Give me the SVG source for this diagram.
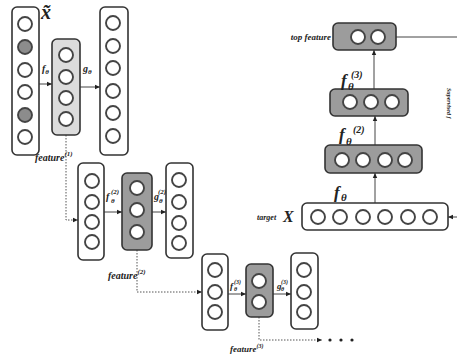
<svg xmlns="http://www.w3.org/2000/svg" width="457" height="357" viewBox="0 0 457 357">
<style>
.col{fill:#fff;stroke:#333;stroke-width:1.6}
.lt{fill:#dcdcdc;stroke:#333;stroke-width:1.6}
.dk{fill:#9c9c9c;stroke:#333;stroke-width:1.6}
.c{fill:#fff;stroke:#444;stroke-width:1.9}
.g{fill:#8c8c8c;stroke:#444;stroke-width:1.9}
.ln{stroke:#444;stroke-width:1;fill:none}
.dot{stroke:#555;stroke-width:1;fill:none;stroke-dasharray:1.5 1.5}
.lb{font-family:"Liberation Serif",serif;font-style:italic;font-weight:bold;fill:#222}
</style>
<defs>
<marker id="ah" markerWidth="6" markerHeight="6" refX="5" refY="3" orient="auto" markerUnits="userSpaceOnUse">
<path d="M0,0.8 L5,3 L0,5.2 Z" fill="#222"/>
</marker>
</defs>
<rect width="457" height="357" fill="#fff"/>

<g id="connectors">
<line class="ln" x1="39" y1="84" x2="52" y2="84" marker-end="url(#ah)"/>
<line class="ln" x1="80" y1="87" x2="100" y2="87" marker-end="url(#ah)"/>
<polyline class="dot" points="66,135 66,220 78,220" marker-end="url(#ah)"/>
<line class="ln" x1="104" y1="212" x2="122" y2="212" marker-end="url(#ah)"/>
<line class="ln" x1="152" y1="212" x2="166" y2="212" marker-end="url(#ah)"/>
<polyline class="dot" points="137,250 137,292 202,292" marker-end="url(#ah)"/>
<line class="ln" x1="228" y1="294" x2="246" y2="294" marker-end="url(#ah)"/>
<line class="ln" x1="273" y1="294" x2="291" y2="294" marker-end="url(#ah)"/>
<polyline class="dot" points="259,317 259,340 322,340" marker-end="url(#ah)"/>
<line class="ln" x1="375" y1="203" x2="375" y2="173" marker-end="url(#ah)"/>
<line class="ln" x1="375" y1="145" x2="375" y2="116" marker-end="url(#ah)"/>
<line class="ln" x1="374" y1="89" x2="374" y2="50" marker-end="url(#ah)"/>
<line class="ln" x1="396" y1="37" x2="457" y2="37"/>
<line class="ln" x1="457" y1="217" x2="448" y2="217" marker-end="url(#ah)"/>
</g>

<g id="input">
<rect class="col" x="12" y="7" width="27" height="148" rx="5"/>
<circle class="c" cx="25" cy="24" r="7"/>
<circle class="g" cx="25" cy="47" r="7"/>
<circle class="c" cx="25" cy="70" r="7"/>
<circle class="c" cx="25" cy="92" r="7"/>
<circle class="g" cx="25" cy="115" r="7"/>
<circle class="c" cx="25" cy="137" r="7"/>
<text class="lb" x="41" y="19" font-size="20">x̃</text>
</g>

<g id="hidden1">
<rect class="lt" x="52" y="39" width="28" height="96" rx="5"/>
<circle class="c" cx="66" cy="55" r="7"/>
<circle class="c" cx="66" cy="77" r="7"/>
<circle class="c" cx="66" cy="98" r="7"/>
<circle class="c" cx="66" cy="119" r="7"/>
</g>

<g id="recon1">
<rect class="col" x="100" y="7" width="28" height="148" rx="5"/>
<circle class="c" cx="113" cy="23" r="7"/>
<circle class="c" cx="113" cy="46" r="7"/>
<circle class="c" cx="113" cy="68" r="7"/>
<circle class="c" cx="113" cy="91" r="7"/>
<circle class="c" cx="113" cy="113" r="7"/>
<circle class="c" cx="113" cy="136" r="7"/>
</g>

<g id="labels1">
<text class="lb" x="42" y="72" font-size="10">f<tspan font-size="7" dy="2">θ</tspan></text>
<text class="lb" x="83" y="72" font-size="10">g<tspan font-size="7" dy="2">θ</tspan></text>
<text class="lb" x="35" y="161" font-size="10">feature<tspan font-size="7" dy="-5">(1)</tspan></text>
</g>

<g id="input2">
<rect class="col" x="78" y="163" width="26" height="97" rx="5"/>
<circle class="c" cx="92" cy="181" r="7"/>
<circle class="c" cx="92" cy="202" r="7"/>
<circle class="c" cx="92" cy="222" r="7"/>
<circle class="c" cx="92" cy="242" r="7"/>
</g>

<g id="hidden2">
<rect class="dk" x="122" y="173" width="30" height="77" rx="5"/>
<circle class="c" cx="137" cy="188" r="7"/>
<circle class="c" cx="137" cy="210" r="7"/>
<circle class="c" cx="137" cy="232" r="7"/>
</g>

<g id="recon2">
<rect class="col" x="166" y="163" width="27" height="95" rx="5"/>
<circle class="c" cx="179" cy="180" r="7"/>
<circle class="c" cx="179" cy="202" r="7"/>
<circle class="c" cx="179" cy="223" r="7"/>
<circle class="c" cx="179" cy="243" r="7"/>
</g>

<g id="labels2">
<text class="lb" x="106" y="200" font-size="10">f</text>
<text class="lb" x="111" y="203" font-size="7">θ</text>
<text class="lb" x="111" y="194" font-size="7">(2)</text>
<text class="lb" x="154" y="200" font-size="10">g</text>
<text class="lb" x="159" y="203" font-size="7">θ</text>
<text class="lb" x="158" y="194" font-size="7">(2)</text>
<text class="lb" x="108" y="279" font-size="10">feature<tspan font-size="7" dy="-5">(2)</tspan></text>
</g>

<g id="input3">
<rect class="col" x="202" y="254" width="26" height="76" rx="5"/>
<circle class="c" cx="215" cy="270" r="7"/>
<circle class="c" cx="215" cy="292" r="7"/>
<circle class="c" cx="215" cy="312" r="7"/>
</g>

<g id="hidden3">
<rect class="dk" x="246" y="264" width="27" height="53" rx="5"/>
<circle class="c" cx="259" cy="281" r="7"/>
<circle class="c" cx="259" cy="302" r="7"/>
</g>

<g id="recon3">
<rect class="col" x="291" y="253" width="27" height="76" rx="5"/>
<circle class="c" cx="304" cy="270" r="7"/>
<circle class="c" cx="304" cy="292" r="7"/>
<circle class="c" cx="304" cy="312" r="7"/>
</g>

<g id="labels3">
<text class="lb" x="230" y="289" font-size="9">f</text>
<text class="lb" x="234" y="291" font-size="6">θ</text>
<text class="lb" x="234" y="284" font-size="6">(3)</text>
<text class="lb" x="277" y="289" font-size="9">g</text>
<text class="lb" x="281" y="291" font-size="6">θ</text>
<text class="lb" x="281" y="284" font-size="6">(3)</text>
<text class="lb" x="230" y="352" font-size="9">feature<tspan font-size="6" dy="-4">(3)</tspan></text>
<circle cx="330" cy="340" r="1.6" fill="#222"/>
<circle cx="341" cy="340" r="1.6" fill="#222"/>
<circle cx="352" cy="340" r="1.6" fill="#222"/>
</g>

<g id="top">
<rect class="dk" x="333" y="23" width="63" height="27" rx="5"/>
<circle class="c" cx="358" cy="37" r="7"/>
<circle class="c" cx="378" cy="37" r="7"/>
<text class="lb" x="331" y="40" font-size="9" text-anchor="end">top feature</text>
</g>

<g id="layer3">
<rect class="dk" x="330" y="89" width="78" height="27" rx="5"/>
<circle class="c" cx="350" cy="102" r="7"/>
<circle class="c" cx="371" cy="102" r="7"/>
<circle class="c" cx="392" cy="102" r="7"/>
<text class="lb" x="341" y="86" font-size="17">f</text>
<text class="lb" x="348" y="90" font-size="11">θ</text>
<text class="lb" x="351" y="78" font-size="10">(3)</text>
</g>

<g id="layer2">
<rect class="dk" x="325" y="145" width="97" height="28" rx="5"/>
<circle class="c" cx="342" cy="160" r="7"/>
<circle class="c" cx="363" cy="160" r="7"/>
<circle class="c" cx="385" cy="160" r="7"/>
<circle class="c" cx="405" cy="160" r="7"/>
<text class="lb" x="339" y="140" font-size="17">f</text>
<text class="lb" x="346" y="145" font-size="11">θ</text>
<text class="lb" x="353" y="133" font-size="10">(2)</text>
</g>

<g id="target">
<rect class="col" x="302" y="203" width="146" height="27" rx="5"/>
<circle class="c" cx="318" cy="217" r="7"/>
<circle class="c" cx="340" cy="217" r="7"/>
<circle class="c" cx="363" cy="217" r="7"/>
<circle class="c" cx="385" cy="217" r="7"/>
<circle class="c" cx="408" cy="217" r="7"/>
<circle class="c" cx="430" cy="217" r="7"/>
<text class="lb" x="334" y="198" font-size="17">f</text>
<text class="lb" x="341" y="201" font-size="11">θ</text>
<text class="lb" x="257" y="220" font-size="8">target</text>
<text class="lb" x="283" y="222" font-size="16">X</text>
</g>

<text class="lb" font-size="6" fill="#444" transform="translate(447,88) rotate(90)">Supervised f</text>
</svg>
